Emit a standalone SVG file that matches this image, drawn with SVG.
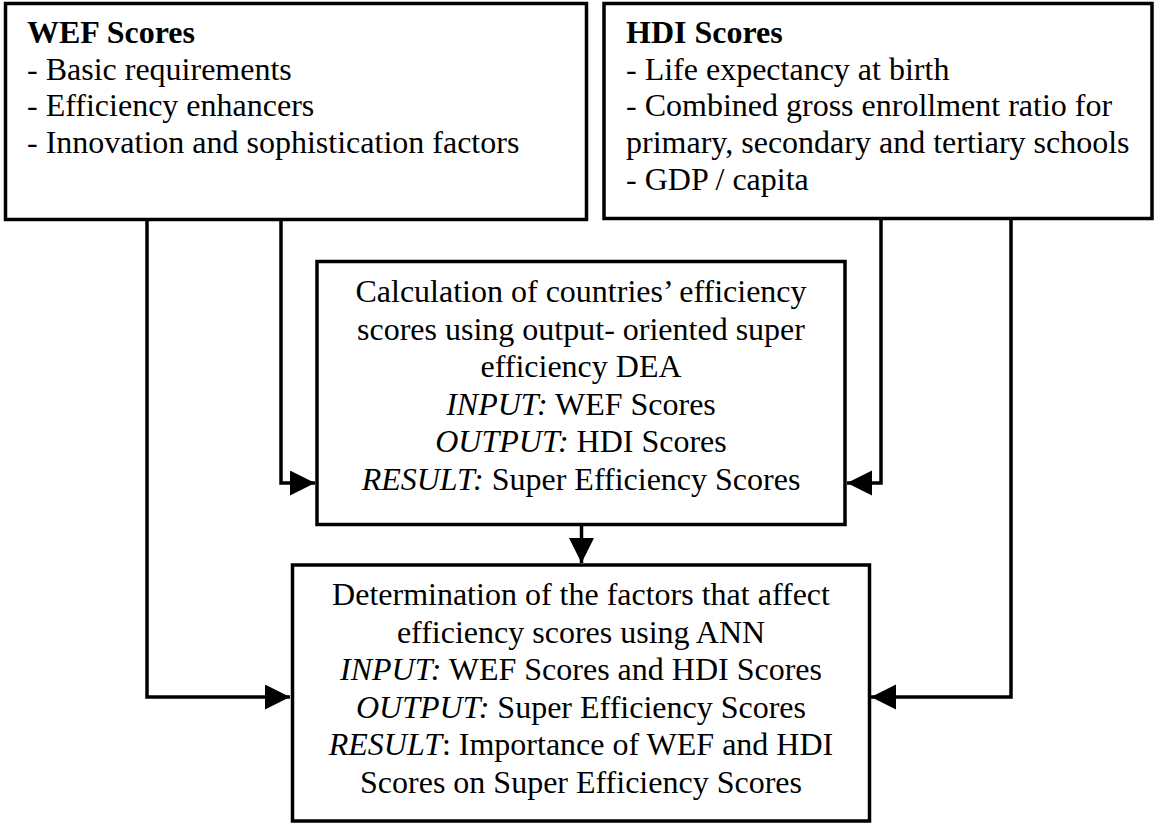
<svg xmlns="http://www.w3.org/2000/svg" width="1158" height="831" viewBox="0 0 1158 831">
<style>
.box{fill:#fff;stroke:#000;stroke-width:3.5}
.t{font-family:"Liberation Serif","Times New Roman",serif;font-size:32px;fill:#000}
.c{text-anchor:middle}
.b{font-weight:bold}
.i{font-style:italic}
.ln{fill:none;stroke:#000;stroke-width:3.5}
</style>
<defs>
<marker id="ah" markerUnits="userSpaceOnUse" markerWidth="26" markerHeight="26" refX="25" refY="12.5" orient="auto" viewBox="0 0 26 26">
<path d="M0,0 L25,12.5 L0,25 Z" fill="#000"/>
</marker>
</defs>
<g id="connectors">
<path class="ln" d="M281,220 V483 H315" marker-end="url(#ah)"/>
<path class="ln" d="M881,220 V483 H847" marker-end="url(#ah)"/>
<path class="ln" d="M147,220 V697 H290" marker-end="url(#ah)"/>
<path class="ln" d="M1011,220 V697 H871" marker-end="url(#ah)"/>
<path class="ln" d="M581.5,525 V563" marker-end="url(#ah)"/>
</g>
<g id="wef">
<rect class="box" x="5.5" y="3.5" width="581" height="216"/>
<text class="t" x="27" y="43"><tspan class="b">WEF Scores</tspan><tspan x="27" dy="36.7">- Basic requirements</tspan><tspan x="27" dy="36.7">- Efficiency enhancers</tspan><tspan x="27" dy="36.7">- Innovation and sophistication factors</tspan></text>
</g>
<g id="hdi">
<rect class="box" x="604" y="3.5" width="548" height="215"/>
<text class="t" x="626" y="43"><tspan class="b">HDI Scores</tspan><tspan x="626" dy="36.7">- Life expectancy at birth</tspan><tspan x="626" dy="36.7">- Combined gross enrollment ratio for</tspan><tspan x="626" dy="36.7">primary, secondary and tertiary schools</tspan><tspan x="626" dy="36.7">- GDP / capita</tspan></text>
</g>
<g id="dea">
<rect class="box" x="317" y="261.5" width="528" height="263"/>
<text class="t c" x="581" y="302"><tspan>Calculation of countries’ efficiency</tspan><tspan x="581" dy="37.5">scores using output- oriented super</tspan><tspan x="581" dy="37.5">efficiency DEA</tspan><tspan x="581" dy="37.5"><tspan class="i">INPUT:</tspan> WEF Scores</tspan><tspan x="581" dy="37.5"><tspan class="i">OUTPUT:</tspan> HDI Scores</tspan><tspan x="581" dy="37.5"><tspan class="i">RESULT:</tspan> Super Efficiency Scores</tspan></text>
</g>
<g id="ann">
<rect class="box" x="292.5" y="565" width="577" height="256"/>
<text class="t c" x="581" y="605"><tspan>Determination of the factors that affect</tspan><tspan x="581" dy="37.5">efficiency scores using ANN</tspan><tspan x="581" dy="37.5"><tspan class="i">INPUT:</tspan> WEF Scores and HDI Scores</tspan><tspan x="581" dy="37.5"><tspan class="i">OUTPUT:</tspan> Super Efficiency Scores</tspan><tspan x="581" dy="37.5"><tspan class="i">RESULT</tspan>: Importance of WEF and HDI</tspan><tspan x="581" dy="37.5">Scores on Super Efficiency Scores</tspan></text>
</g>
</svg>
